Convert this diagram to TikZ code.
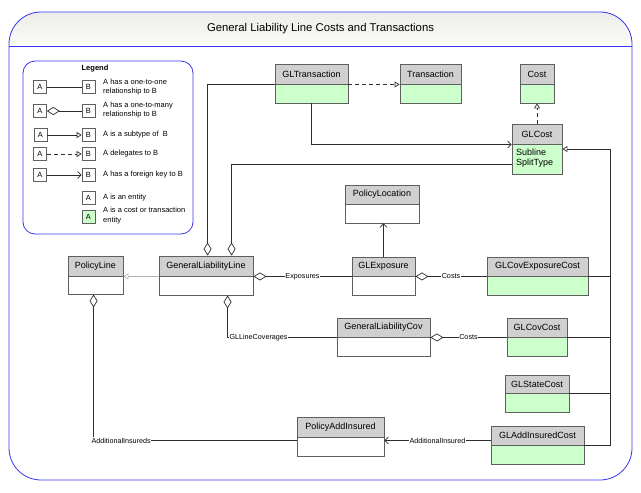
\documentclass[tikz,border=0pt]{standalone}
\usepackage{fontspec}
\setmainfont{Liberation Sans}
\usetikzlibrary{arrows.meta,calc}
\definecolor{frameblue}{RGB}{55,55,240}
\definecolor{hdrgray}{RGB}{208,208,208}
\definecolor{costgreen}{RGB}{204,255,204}
\definecolor{boxline}{RGB}{95,95,95}
\definecolor{connc}{RGB}{45,45,45}
\tikzset{
 hdr/.style={draw=boxline, line width=0.9pt, fill=hdrgray, inner sep=0pt, font=\fontsize{9}{10}\selectfont},
 bdy/.style={draw=boxline, line width=0.9pt, inner sep=0pt},
 conn/.style={draw=connc, line width=0.7pt},
 lbl/.style={fill=white, inner sep=0.6pt, font=\fontsize{7.2}{8}\selectfont},
 tri/.style={-{Triangle[open, length=5pt, width=6pt]}},
 fk/.style={-{Straight Barb[length=3.5pt, width=7pt]}},
 dia/.style={{Diamond[open, length=13pt, width=8pt]}-},
 dsh/.style={dash pattern=on 4pt off 3pt},
 lbox/.style={draw=boxline, line width=0.6pt, minimum width=13pt, minimum height=13pt, inner sep=0pt, font=\fontsize{7.5}{8}\selectfont},
 ltext/.style={anchor=west, align=left, font=\fontsize{7.5}{9.8}\selectfont, inner sep=0pt},
}
\newcommand\entbox[8]{%
 \node[hdr, minimum width={(#5-#2)*1pt}, minimum height={(#4-#3)*1pt}] (#1) at ({(#2+#5)/2},{(#3+#4)/2}) {#8};
 \node[bdy, fill=#7, minimum width={(#5-#2)*1pt}, minimum height={(#6-#4)*1pt}] (#1-b) at ({(#2+#5)/2},{(#4+#6)/2}) {};
}
\begin{document}
\begin{tikzpicture}[x=1pt, y=-1pt]
\useasboundingbox (0,0) rectangle (641,493);
% frame
\begin{scope}
\clip[rounded corners=32pt] (9,12) rectangle (632,480);
\fill[top color={rgb,255:red,236;green,236;blue,232}, bottom color={rgb,255:red,251;green,251;blue,248}] (9,12) rectangle (632,46);
\end{scope}
\draw[frameblue, line width=0.8pt, rounded corners=32pt] (9,12) rectangle (632,480);
\draw[frameblue, line width=0.8pt] (9,46) -- (632,46);
\node[font=\fontsize{11.3}{13}\selectfont] (title) at (320.5,29) {General Liability Line Costs and Transactions};

% legend
\draw[frameblue, line width=0.8pt, rounded corners=12pt] (23,61) rectangle (193,234);
\node[font=\bfseries\fontsize{7.5}{8}\selectfont] (legtitle) at (95,68.5) {Legend};
\node[lbox] (l1a) at (40,87) {A}; \node[lbox] (l1b) at (88.5,87) {B};
\draw[conn] (l1a) -- (l1b);
\node[ltext] (l1t) at (103,87) {A has a one-to-one\\relationship to B};
\node[lbox] (l2a) at (40,111) {A}; \node[lbox] (l2b) at (88.5,111) {B};
\draw[conn, dia] (l2a) -- (l2b);
\node[ltext] (l2t) at (103,110) {A has a one-to-many\\relationship to B};
\node[lbox] (l3a) at (40.5,135) {A}; \node[lbox] (l3b) at (88.5,135) {B};
\draw[conn, tri] (l3a) -- (l3b);
\node[ltext] (l3t) at (103,135) {A is a subtype of\ \ B};
\node[lbox] (l4a) at (40,154) {A}; \node[lbox] (l4b) at (88.5,154) {B};
\draw[conn, dsh, tri] (l4a) -- (l4b);
\node[ltext] (l4t) at (103,154) {A delegates to B};
\node[lbox] (l5a) at (40,175) {A}; \node[lbox] (l5b) at (88.5,175) {B};
\draw[conn, fk] (l5a) -- (l5b);
\node[ltext] (l5t) at (103,175) {A has a foreign key to B};
\node[lbox] (l6) at (88.5,198) {A};
\node[ltext] (l6t) at (103,198) {A is an entity};
\node[lbox, fill=costgreen] (l7) at (88.5,217) {A};
\node[ltext] (l7t) at (103,215.5) {A is a cost or transaction\\entity};

% entities
\entbox{glt}{275}{64}{84}{348}{103}{costgreen}{GLTransaction}
\entbox{trans}{400}{64}{84}{461}{103}{costgreen}{Transaction}
\entbox{cost}{520}{64}{84}{554}{103}{costgreen}{Cost}
\entbox{glc}{512}{124}{144}{562}{174}{costgreen}{GLCost}
\node[anchor=north west, align=left, inner sep=0pt, font=\fontsize{9}{10.5}\selectfont] (glct) at (516,148.5) {Subline\\SplitType};
\entbox{ploc}{345}{185}{204}{419}{223}{white}{PolicyLocation}
\entbox{pl}{68}{256}{276}{123}{294}{white}{PolicyLine}
\entbox{gll}{159}{256}{276}{253}{295}{white}{GeneralLiabilityLine}
\entbox{gle}{352}{257}{276}{415}{295}{white}{GLExposure}
\entbox{gcec}{487}{257}{276}{588}{295}{costgreen}{GLCovExposureCost}
\entbox{glcov}{337}{318}{337}{430}{356}{white}{GeneralLiabilityCov}
\entbox{gcc}{507}{318}{337}{567}{356}{costgreen}{GLCovCost}
\entbox{gsc}{505}{375}{393}{569}{412}{costgreen}{GLStateCost}
\entbox{pai}{297}{417}{437}{384}{456}{white}{PolicyAddInsured}
\entbox{gaic}{491}{426}{445}{584}{464}{costgreen}{GLAddInsuredCost}

% connectors
\draw[conn, dsh, tri] (glt.south east) -- (trans.south west);
\draw[conn, dsh, tri] (glc.north) -- (cost-b.south);
\draw[conn, fk] (glt-b.south) |- (glc.south west);
\draw[conn, dia] ([xshift=49pt]gll.north west) |- (glt.south west);
\draw[conn, dia] ([xshift=73pt]gll.north west) |- ([yshift=-5pt]glc-b.west);
\draw[conn, draw=gray!60, tri] (gll.south west) -- (pl.south east);
\draw[conn, dia] (gll.south east) -- node[lbl]{Exposures} (gle.south west);
\draw[conn, dia] (gle.south east) -- node[lbl]{Costs} (gcec.south west);
\draw[conn, fk] (gle.north) -- (gle.north |- ploc-b.south);
\draw[conn, dia] ([xshift=69pt]gll-b.south west) |- node[lbl, pos=0.5, anchor=west, xshift=1pt]{GLLineCoverages} (glcov.south west);
\draw[conn, dia] (glcov.south east) -- node[lbl]{Costs} (gcc.south west);
\draw[conn, dia] ([xshift=26pt]pl-b.south west) |- node[lbl, pos=0.5, anchor=west, xshift=-3pt]{AdditionalInsureds} ([yshift=-3pt]pai.south west);
\draw[conn, fk] ([yshift=5pt]gaic.south west) -- node[lbl]{AdditionalInsured} ([yshift=-3pt]pai.south east);
\coordinate (bus) at (610,149);
\draw[conn, tri] (gaic.south east) -| (bus) -- (bus -| glc-b.east);
\draw[conn] (gcec.south east) -- (gcec.south east -| bus);
\draw[conn] (gcc.south east) -- (gcc.south east -| bus);
\draw[conn] (gsc.south east) -- (gsc.south east -| bus);
\end{tikzpicture}
\end{document}
